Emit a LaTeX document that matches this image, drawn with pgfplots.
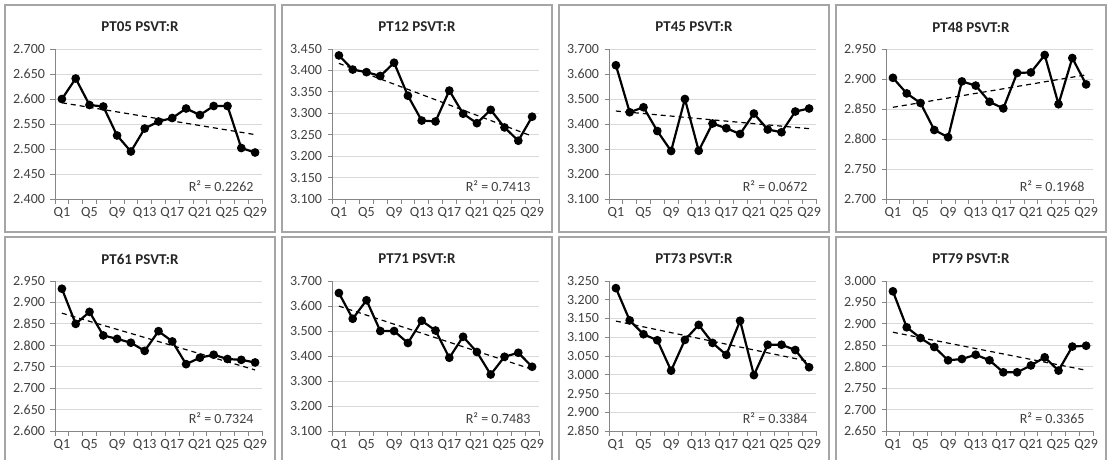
\documentclass[border=0pt]{standalone}
\usepackage{pgfplots}
\usepackage{pgfplotstable}
\pgfplotsset{compat=1.18}
\usepackage{fontspec}
\setmainfont{Carlito}
\definecolor{framegray}{RGB}{165,165,165}
\definecolor{gridgray}{RGB}{217,217,217}
\definecolor{axisgray}{RGB}{134,134,134}
\definecolor{labelgray}{RGB}{64,64,64}

\pgfplotstableread{
x y
1 2.600
2 2.641
3 2.588
4 2.585
5 2.527
6 2.495
7 2.541
8 2.555
9 2.562
10 2.581
11 2.568
12 2.586
13 2.586
14 2.502
15 2.493
}\dataA
\pgfplotstableread{
x y
1 3.435
2 3.402
3 3.396
4 3.387
5 3.418
6 3.341
7 3.283
8 3.281
9 3.353
10 3.299
11 3.277
12 3.308
13 3.267
14 3.236
15 3.292
}\dataB
\pgfplotstableread{
x y
1 3.635
2 3.447
3 3.467
4 3.372
5 3.292
6 3.500
7 3.293
8 3.402
9 3.383
10 3.360
11 3.442
12 3.378
13 3.367
14 3.450
15 3.462
}\dataC
\pgfplotstableread{
x y
1 2.902
2 2.876
3 2.860
4 2.815
5 2.803
6 2.896
7 2.889
8 2.862
9 2.851
10 2.910
11 2.911
12 2.940
13 2.858
14 2.935
15 2.891
}\dataD
\pgfplotstableread{
x y
1 2.932
2 2.850
3 2.878
4 2.823
5 2.815
6 2.806
7 2.787
8 2.833
9 2.809
10 2.756
11 2.771
12 2.778
13 2.768
14 2.766
15 2.760
}\dataE
\pgfplotstableread{
x y
1 3.652
2 3.549
3 3.623
4 3.500
5 3.500
6 3.452
7 3.541
8 3.502
9 3.393
10 3.477
11 3.416
12 3.326
13 3.397
14 3.413
15 3.357
}\dataF
\pgfplotstableread{
x y
1 3.231
2 3.145
3 3.108
4 3.092
5 3.011
6 3.093
7 3.133
8 3.085
9 3.053
10 3.144
11 2.999
12 3.080
13 3.080
14 3.066
15 3.020
}\dataG
\pgfplotstableread{
x y
1 2.976
2 2.892
3 2.867
4 2.846
5 2.815
6 2.818
7 2.828
8 2.815
9 2.787
10 2.787
11 2.803
12 2.822
13 2.791
14 2.847
15 2.849
}\dataH

\newcommand{\panel}[8]{%
\draw[framegray, line width=1.3pt] (#1pt,-#2pt) rectangle ++(270pt,-227pt);
\node[font=\bfseries\fontsize{15}{15}\selectfont, text=black!85] at ({#1pt+135pt},{-#2pt-22pt}) {#3};
\begin{axis}[
  at={({#1pt+50pt},{-#2pt-194pt})}, anchor=south west,
  width=207pt, height=150pt, scale only axis,
  xmin=0.5, xmax=15.5, ymin=#4, ymax=#5, ytick distance=#6,
  scaled y ticks=false,
  axis lines=left, axis line style={-, axisgray, line width=0.8pt},
  xtick={0.5,1.5,...,15.5}, xticklabels={},
  extra x ticks={1,3,...,15},
  extra x tick labels={Q1,Q5,Q9,Q13,Q17,Q21,Q25,Q29},
  extra x tick style={major tick length=0pt, grid=none},
  tick align=outside, major tick length=4.5pt,
  tick style={axisgray, line width=0.8pt},
  ymajorgrids, grid style={gridgray, line width=0.9pt},
  tick label style={font=\fontsize{14}{14}\selectfont, text=labelgray},
  yticklabel style={/pgf/number format/fixed, /pgf/number format/fixed zerofill, /pgf/number format/precision=3, /pgf/number format/assume math mode=true, xshift=-2pt},
  xticklabel style={yshift=-5pt},
  clip=false,
]
\addplot[black, line width=2.2pt, mark=*, mark size=3.2pt] table[x=x,y=y]{#7};
\addplot[black, line width=1.2pt, dash pattern=on 5pt off 4pt] table[x=x, y={create col/linear regression={y=y}}]{#7};
\node[anchor=east, font=\fontsize{14}{14}\selectfont, text=labelgray] at (rel axis cs:1,0) [xshift=-5pt, yshift=13pt] {R² = #8};
\end{axis}}

\begin{document}
\begin{tikzpicture}
\useasboundingbox (0,0) rectangle (1107pt,-459pt);
\panel{5}{5}{PT05 PSVT:R}{2.4}{2.7}{0.05}{\dataA}{0.2262}
\panel{282}{5}{PT12 PSVT:R}{3.1}{3.45}{0.05}{\dataB}{0.7413}
\panel{559}{5}{PT45 PSVT:R}{3.1}{3.7}{0.1}{\dataC}{0.0672}
\panel{836}{5}{PT48 PSVT:R}{2.7}{2.95}{0.05}{\dataD}{0.1968}
\panel{5}{237}{PT61 PSVT:R}{2.6}{2.95}{0.05}{\dataE}{0.7324}
\panel{282}{237}{PT71 PSVT:R}{3.1}{3.7}{0.1}{\dataF}{0.7483}
\panel{559}{237}{PT73 PSVT:R}{2.85}{3.25}{0.05}{\dataG}{0.3384}
\panel{836}{237}{PT79 PSVT:R}{2.65}{3.0}{0.05}{\dataH}{0.3365}
\end{tikzpicture}
\end{document}
